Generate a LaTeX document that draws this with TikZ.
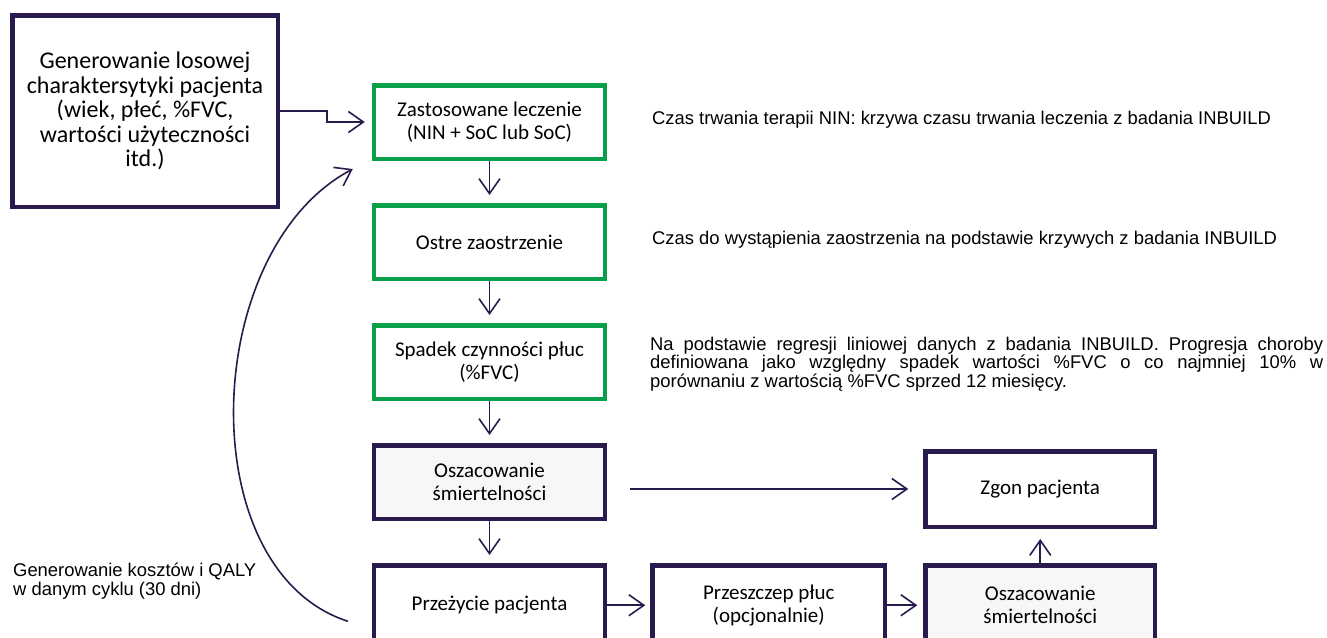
\documentclass[tikz,border=0pt]{standalone}
\usepackage{fontspec}
\setmainfont{Carlito}
\newfontfamily\notefont{Liberation Sans}
\usepackage{xcolor}
\usetikzlibrary{arrows.meta, positioning}
\definecolor{ink}{RGB}{42,27,78}
\definecolor{leaf}{RGB}{8,161,74}
\definecolor{mist}{RGB}{247,247,247}

\begin{document}
\begin{tikzpicture}[
  x=1pt, y=-1pt,
  node distance=42pt and 43pt,
  box/.style={rectangle, draw=ink, line width=4.5pt, fill=white,
              text=black, minimum width=231pt, minimum height=73.5pt,
              align=center, font=\fontsize{21}{23}\selectfont},
  greenbox/.style={box, draw=leaf},
  graybox/.style={box, fill=mist},
  arrow/.style={-{Straight Barb[length=15pt, width=21pt]}, line width=1.6pt,
                draw=ink, shorten >=8pt},
  note/.style={font=\notefont\fontsize{18.4}{18.4}\selectfont, anchor=west,
               inner sep=0pt},
]
  \useasboundingbox (0,0) rectangle (1327,637);

  \node[box, minimum width=265.5pt, minimum height=191.5pt,
        font=\fontsize{24}{24.5}\selectfont] (gen) at (145,111)
        {Generowanie losowej\\charaktersytyki pacjenta\\(wiek, płeć, \%FVC,\\wartości użyteczności\\itd.)};

  \node[greenbox] (treat) at (489.5,122) {Zastosowane leczenie\\(NIN + SoC lub SoC)};
  \node[greenbox, below=of treat] (exac) {Ostre zaostrzenie};
  \node[greenbox, below=of exac]  (fvc)  {Spadek czynności płuc\\(\%FVC)};
  \node[graybox, below=of fvc]    (mort) {Oszacowanie\\śmiertelności};
  \node[box, below=of mort, minimum height=80pt] (surv) {Przeżycie pacjenta};
  \node[box, right=of surv, minimum width=232.5pt, minimum height=80pt] (tx)
        {Przeszczep płuc\\(opcjonalnie)};
  \node[graybox, right=36pt of tx, minimum width=229.5pt, minimum height=80pt] (mort2)
        {Oszacowanie\\śmiertelności};
  \node[box, above=34pt of mort2, minimum width=229.5pt, minimum height=75.5pt] (death)
        {Zgon pacjenta};

  % notes
  \node[note] (durnote)  at (652,120) {Czas trwania terapii NIN: krzywa czasu trwania leczenia z badania INBUILD};
  \node[note] (exacnote) at (652,240) {Czas do wystąpienia zaostrzenia na podstawie krzywych z badania INBUILD};
  \node[note, text width=673pt, align=justify] (fvcnote) at (650,364)
        {Na podstawie regresji liniowej danych z badania INBUILD. Progresja choroby\linebreak
         definiowana jako względny spadek wartości \%FVC o co najmniej 10\% w\linebreak
         porównaniu z wartością \%FVC sprzed 12 miesięcy.};
  \node[note, align=left] (costnote) at (13,581)
        {Generowanie kosztów i QALY\\w danym cyklu (30 dni)};

  \draw[arrow, shorten >=7pt] (gen.east) -- ++(47,0) |- (treat.west);
  \draw[arrow] (treat) -- (exac);
  \draw[arrow] (exac)  -- (fvc);
  \draw[arrow] (fvc)   -- (mort);
  \draw[arrow] (mort)  -- (surv);
  \draw[arrow, shorten <=23pt, shorten >=15pt] (mort.east |- death.west) -- (death.west);
  \draw[arrow, shorten >=5pt]  (surv)  -- (tx);
  \draw[arrow, shorten >=6pt]  (tx)    -- (mort2);
  \draw[arrow, shorten >=10pt] (mort2) -- (death);

  % loop back to treatment
  \coordinate (loopA) at ([xshift=-24pt, yshift=-16pt]surv.west);
  \coordinate (loopB) at ([xshift=-19pt, yshift=-8pt]treat.south west);
  \draw[arrow, shorten >=0pt] (loopA) .. controls (190,570) and (200,250) .. (loopB);
\end{tikzpicture}
\end{document}
